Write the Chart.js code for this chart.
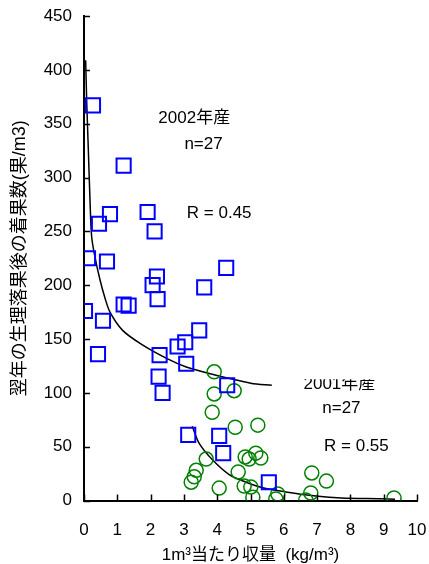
<!DOCTYPE html>
<html>
<head>
<meta charset="utf-8">
<script src="https://cdn.jsdelivr.net/npm/chart.js@4.4.1/dist/chart.umd.min.js"></script>
<style>
  html, body { margin: 0; padding: 0; background: #fff; }
  #wrap { width: 429px; height: 564px; }
</style>
</head>
<body>
<div id="wrap"><canvas id="scatterChart"></canvas></div>
<script>
// 2002年産 (四角)
const sq2002X = [0.27, 1.19, 0.78, 1.91, 0.45, 2.12, 0.12, 0.69, 2.19, 4.27, 2.06, 3.61, 2.21, 1.19, 1.34,
                 0.03, 0.57, 0.42, 3.46, 2.81, 3.04, 2.27, 3.07, 2.24, 2.36, 4.30, 3.13, 4.06, 4.18, 5.55];
const sq2002Y = [367, 311, 266, 268, 257, 250, 225, 222, 208, 216, 200, 198, 187, 182, 181,
                 176, 167, 136, 158, 143, 147, 135, 127, 115, 100, 107, 61, 60, 44, 17];

// 2001年産 (丸)
const circ2001X = [3.91, 4.51, 3.91, 3.85, 4.54, 5.22, 3.67, 4.84, 4.96, 5.16, 5.31, 3.37, 3.31,
                   3.22, 4.63, 4.06, 4.81, 5.01, 5.07, 5.76, 5.82, 6.84, 7.28, 6.66, 6.81, 9.31];
const circ2001Y = [119.5, 102, 99, 82, 68, 70, 38.5, 40.5, 38.5, 44, 39.5, 28, 22,
                   17, 26.5, 11.5, 13.5, 12.5, 3, 1.4, 6, 25.6, 18, 0.5, 7, 2.3];

// 近似曲線
const curve2002X = [0.05, 0.08, 0.13, 0.18, 0.23, 0.33, 0.48, 0.63, 0.78, 1.16, 1.73, 2.48, 3.07, 3.76, 5.01, 5.64];
const curve2002Y = [409, 372, 326, 279, 245, 226, 205, 188, 175, 158, 145, 132, 124, 118, 109, 107];
const curve2001X = [3.25, 3.46, 3.85, 4.36, 4.87, 5.4, 6.06, 6.96, 7.73, 8.93, 9.34];
const curve2001Y = [69, 53, 38, 24, 17, 11.6, 8, 4.2, 2.3, 1.6, 1.2];

// 注釈テキスト
const noteTexts = ['2002年産', 'n=27', 'R = 0.45', '2001年産', 'n=27', 'R = 0.55'];
const noteX = [3.31, 3.59, 4.06, 7.67, 7.73, 8.18];
const noteY = [354.7, 331, 266.5, 108, 86, 50.5];

const xTicks = [0, 1, 2, 3, 4, 5, 6, 7, 8, 9, 10];
const yTicks = [0, 50, 100, 150, 200, 250, 300, 350, 400, 450];

const FONT = "'Liberation Sans', 'Noto Sans CJK JP', sans-serif";

function toPoints(xs, ys) {
  return xs.map((x, i) => ({ x: x, y: ys[i] }));
}

// 目盛りを内側に描く
const innerTicks = {
  id: 'innerTicks',
  afterDraw(chart) {
    const ctx = chart.ctx;
    const xs = chart.scales.x, ys = chart.scales.y;
    const area = chart.chartArea;
    ctx.save();
    ctx.strokeStyle = '#000';
    ctx.lineWidth = 1.5;
    ctx.beginPath();
    xTicks.forEach(v => {
      const px = Math.round(xs.getPixelForValue(v)) + 0.5;
      ctx.moveTo(px, area.bottom);
      ctx.lineTo(px, area.bottom - 6);
    });
    yTicks.forEach(v => {
      const py = Math.round(ys.getPixelForValue(v)) + 0.5;
      ctx.moveTo(area.left, py);
      ctx.lineTo(area.left + 6, py);
    });
    ctx.stroke();
    ctx.restore();
  }
};

const notes = {
  id: 'notes',
  afterDatasetsDraw(chart) {
    const ctx = chart.ctx;
    const xs = chart.scales.x, ys = chart.scales.y;
    ctx.save();
    ctx.fillStyle = '#000';
    ctx.font = '17px ' + FONT;
    ctx.textAlign = 'center';
    ctx.textBaseline = 'middle';
    noteTexts.forEach((t, i) => {
      const px = xs.getPixelForValue(noteX[i]);
      const py = ys.getPixelForValue(noteY[i]);
      ctx.save();
      if (i === 3) {
        // 元図では上端が欠けている
        ctx.beginPath();
        ctx.rect(px - 60, py - 5, 120, 30);
        ctx.clip();
      }
      ctx.fillText(t, px, py);
      ctx.restore();
    });
    ctx.restore();
  }
};

const ctx = document.getElementById('scatterChart').getContext('2d');
const myChart = new Chart(ctx, {
  type: 'scatter',
  data: {
    datasets: [
      {
        label: '2002年産',
        data: toPoints(sq2002X, sq2002Y),
        pointStyle: 'rect',
        pointRadius: 10,
        borderColor: '#0000ff',
        backgroundColor: 'rgba(0,0,0,0)',
        borderWidth: 2
      },
      {
        label: '2001年産',
        data: toPoints(circ2001X, circ2001Y),
        pointStyle: 'circle',
        pointRadius: 7,
        borderColor: '#008000',
        backgroundColor: 'rgba(0,0,0,0)',
        borderWidth: 1.5
      },
      {
        label: '2002曲線',
        data: toPoints(curve2002X, curve2002Y),
        showLine: true,
        pointRadius: 0,
        borderColor: '#000',
        borderWidth: 1.5,
        tension: 0.3
      },
      {
        label: '2001曲線',
        data: toPoints(curve2001X, curve2001Y),
        showLine: true,
        pointRadius: 0,
        borderColor: '#000',
        borderWidth: 1.5,
        tension: 0.3
      }
    ]
  },
  options: {
    responsive: true,
    maintainAspectRatio: false,
    animation: false,
    layout: { padding: { top: 16, right: 10, left: 0, bottom: 0 } },
    plugins: {
      legend: { display: false },
      tooltip: { enabled: false }
    },
    scales: {
      x: {
        type: 'linear',
        min: 0,
        max: 10,
        afterFit: s => { s.height = 63.5; s.paddingLeft = 0; s.paddingRight = 0; },
        afterBuildTicks: s => { s.ticks = xTicks.map(v => ({ value: v })); },
        grid: { display: false, drawTicks: false },
        border: { color: '#000', width: 2 },
        ticks: { color: '#000', padding: 20, font: { size: 17, family: FONT } },
        title: {
          display: true,
          text: '1m³当たり収量  (kg/m³)',
          color: '#000',
          padding: 0,
          font: { size: 17, family: FONT, lineHeight: 1 }
        }
      },
      y: {
        type: 'linear',
        min: 0,
        max: 450,
        afterFit: s => { s.width = 84; s.paddingTop = 0; s.paddingBottom = 0; },
        afterBuildTicks: s => { s.ticks = yTicks.map(v => ({ value: v })); },
        grid: { display: false, drawTicks: false },
        border: { color: '#000', width: 2 },
        ticks: { color: '#000', padding: 12, font: { size: 17, family: FONT } },
        title: {
          display: true,
          text: '翌年の生理落果後の着果数(果/m3)',
          color: '#000',
          padding: { top: 11, bottom: 0 },
          font: { size: 18, family: FONT, lineHeight: 1 }
        }
      }
    }
  },
  plugins: [innerTicks, notes]
});
</script>
</body>
</html>
